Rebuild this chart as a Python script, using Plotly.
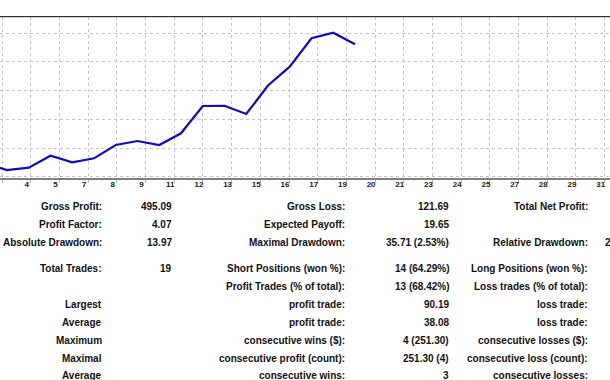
import plotly.graph_objects as go

# ---------------- data ----------------
trade_no = list(range(20))
balance = [1000.00, 1014.20, 1007.20, 986.03, 993.20, 1030.10, 1009.80, 1022.10,
           1063.10, 1075.40, 1063.10, 1099.20, 1183.30, 1184.00, 1158.60, 1246.40,
           1304.40, 1391.90, 1409.11, 1373.40]
date_labels = ["3", "4", "5", "7", "8", "9", "11", "12", "13", "15", "16", "17",
               "19", "20", "21", "23", "24", "25", "27", "28", "29", "31"]

col1_labels = ["Gross Profit:", "Profit Factor:", "Absolute Drawdown:", "Total Trades:", "",
               "Largest", "Average", "Maximum", "Maximal", "Average"]
col1_values = ["495.09", "4.07", "13.97", "19", "", "", "", "", "", ""]
col2_labels = ["Gross Loss:", "Expected Payoff:", "Maximal Drawdown:", "Short Positions (won %):",
               "Profit Trades (% of total):", "profit trade:", "profit trade:",
               "consecutive wins ($):", "consecutive profit (count):", "consecutive wins:"]
col2_values = ["121.69", "19.65", "35.71 (2.53%)", "14 (64.29%)", "13 (68.42%)",
               "90.19", "38.08", "4 (251.30)", "251.30 (4)", "3"]
col3_labels = ["Total Net Profit:", "", "Relative Drawdown:", "Long Positions (won %):",
               "Loss trades (% of total):", "loss trade:", "loss trade:",
               "consecutive losses ($):", "consecutive loss (count):", "consecutive losses:"]
col3_values = ["", "", "2.53% (35.71)", "", "", "", "", "", "", ""]

# ---------------- layout constants ----------------
W, H = 610, 380
row_y = [206.7, 225, 242.7, 268, 286, 304, 322.3, 340.7, 358.3, 375.5]
PLOT_TOP, PLOT_BOT = 16.7, 177.7

fig = go.Figure()
fig.add_trace(go.Scatter(x=trade_no, y=balance, mode="lines",
                         line=dict(color="#0c0cc4", width=2.2), xaxis="x", yaxis="y",
                         hoverinfo="skip", showlegend=False))
fig.add_trace(go.Scatter(x=[], y=[], xaxis="x2", yaxis="y", showlegend=False))

fig.update_layout(
    width=W, height=H, margin=dict(l=0, r=0, t=0, b=0),
    paper_bgcolor="white", plot_bgcolor="white",
    xaxis=dict(domain=[0, 1], range=[2.678, 30.724], side="top", anchor="y",
               showline=False, showgrid=False, zeroline=False,
               showticklabels=False, ticks=""),
    xaxis2=dict(overlaying="x", side="bottom", anchor="y", range=[-0.07, 21.185],
                tickmode="array", tickvals=list(range(len(date_labels))), ticktext=date_labels,
                showgrid=True, gridcolor="#c4c4c4", griddash="3px,3px", gridwidth=1,
                showline=True, linecolor="#808080", linewidth=2,
                ticks="outside", ticklen=3, tickcolor="#b0b0b0",
                ticklabelshift=-4, ticklabelstandoff=-5,
                tickfont=dict(family="Liberation Sans", size=8, color="#202020", weight="bold"),
                zeroline=False),
    yaxis=dict(domain=[1 - PLOT_BOT / H, 1 - PLOT_TOP / H], range=[962.4, 1458.4],
               tick0=1053.9, dtick=88.33, showticklabels=False, ticks="",
               showgrid=True, gridcolor="#c4c4c4", griddash="3px,3px", gridwidth=1,
               zeroline=False, showline=False),
    shapes=[dict(type="line", xref="paper", yref="paper", x0=0, x1=1,
                 y0=1 - PLOT_TOP / H, y1=1 - PLOT_TOP / H,
                 line=dict(color="#000000", width=1))],
)

font = dict(family="Liberation Sans", size=10, color="#111111", weight="bold")

def add_col(texts, right_px, anchor="right"):
    for t, yy in zip(texts, row_y):
        if not t:
            continue
        fig.add_annotation(text=t, xref="paper", yref="paper", x=right_px / W, y=1 - yy / H,
                           xanchor=anchor, yanchor="middle", showarrow=False, font=font,
                           borderpad=0)

add_col(col1_labels, 102.5)
add_col(col1_values, 172.5)
add_col(col2_labels, 346)
add_col(col2_values, 450)
add_col(col3_labels, 589)
add_col(col3_values, 604, anchor="left")

fig.write_html("out.html", config={"displayModeBar": False},
               post_script="document.body.style.margin='0';document.body.style.overflow='hidden';")
